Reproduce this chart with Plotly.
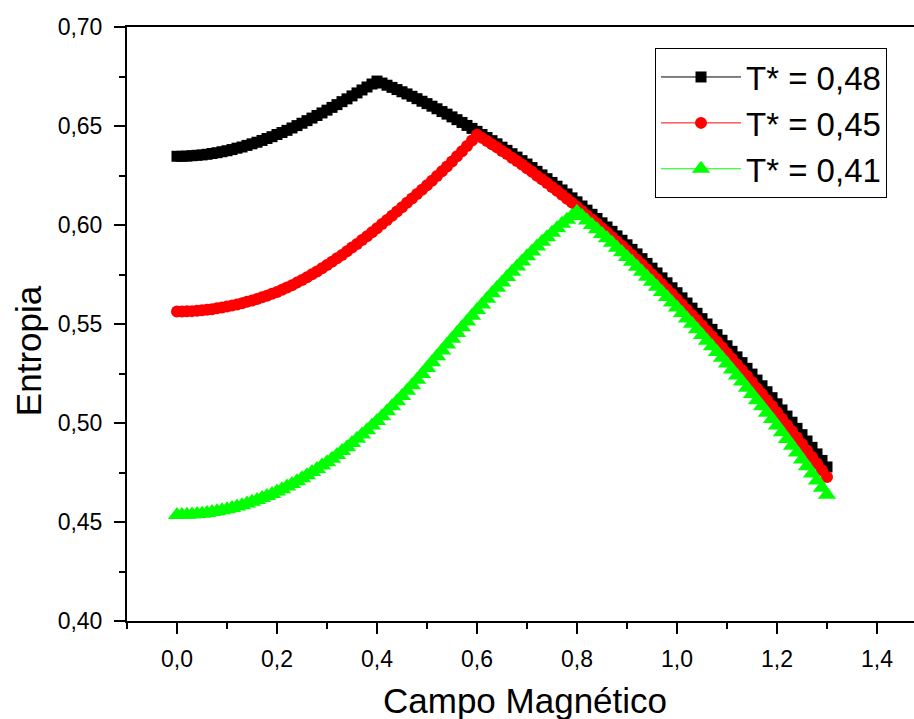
import plotly.graph_objects as go

# Magnetic field values (x) shared by all series
campo = [round(i * 0.01, 2) for i in range(131)]

entropia_048 = [
    0.6347, 0.6347, 0.6348, 0.6350, 0.6352, 0.6354, 0.6357, 0.6361, 0.6365, 0.6370,
    0.6375, 0.6381, 0.6388, 0.6394, 0.6402, 0.6410, 0.6418, 0.6427, 0.6437, 0.6446,
    0.6457, 0.6467, 0.6478, 0.6490, 0.6502, 0.6514, 0.6527, 0.6540, 0.6553, 0.6566,
    0.6580, 0.6594, 0.6608, 0.6623, 0.6637, 0.6652, 0.6667, 0.6682, 0.6697, 0.6712,
    0.6727,
    0.6717, 0.6706, 0.6695, 0.6684, 0.6673, 0.6662, 0.6650, 0.6638, 0.6625, 0.6613,
    0.6600, 0.6587, 0.6573, 0.6560, 0.6546, 0.6532, 0.6518, 0.6503, 0.6488, 0.6473,
    0.6457, 0.6442, 0.6426, 0.6410, 0.6393, 0.6377, 0.6360, 0.6343, 0.6325, 0.6308,
    0.6290, 0.6271, 0.6253, 0.6234, 0.6215, 0.6196, 0.6177, 0.6157, 0.6137, 0.6117,
    0.6096, 0.6075, 0.6054, 0.6033, 0.6011, 0.5990, 0.5968, 0.5945, 0.5923, 0.5900,
    0.5877, 0.5854, 0.5830, 0.5806, 0.5782, 0.5758, 0.5733, 0.5708, 0.5683, 0.5658,
    0.5632, 0.5606, 0.5580, 0.5554, 0.5527, 0.5500, 0.5473, 0.5446, 0.5418, 0.5390,
    0.5362, 0.5334, 0.5305, 0.5276, 0.5247, 0.5217, 0.5188, 0.5158, 0.5128, 0.5097,
    0.5066, 0.5035, 0.5004, 0.4973, 0.4941, 0.4909, 0.4877, 0.4844, 0.4811, 0.4778,
]

entropia_045 = [
    0.5563, 0.5563, 0.5564, 0.5565, 0.5567, 0.5569, 0.5572, 0.5575, 0.5579, 0.5583,
    0.5588, 0.5593, 0.5599, 0.5605, 0.5612, 0.5619, 0.5626, 0.5635, 0.5643, 0.5653,
    0.5662, 0.5673, 0.5684, 0.5696, 0.5709, 0.5722, 0.5736, 0.5751, 0.5765, 0.5782,
    0.5798, 0.5814, 0.5832, 0.5849, 0.5868, 0.5886, 0.5904, 0.5924, 0.5943, 0.5963,
    0.5984, 0.6005, 0.6025, 0.6047, 0.6068, 0.6090, 0.6112, 0.6134, 0.6156, 0.6178,
    0.6201, 0.6224, 0.6248, 0.6272, 0.6296, 0.6321, 0.6347, 0.6373, 0.6399, 0.6427,
    0.6456,
    0.6440, 0.6424, 0.6408, 0.6392, 0.6374, 0.6358, 0.6340, 0.6323, 0.6305, 0.6287,
    0.6269, 0.6249, 0.6231, 0.6212, 0.6192, 0.6173, 0.6153, 0.6133, 0.6113, 0.6092,
    0.6071, 0.6049, 0.6028, 0.6007, 0.5984, 0.5963, 0.5940, 0.5917, 0.5895, 0.5871,
    0.5848, 0.5824, 0.5800, 0.5776, 0.5751, 0.5727, 0.5701, 0.5676, 0.5651, 0.5625,
    0.5599, 0.5572, 0.5546, 0.5520, 0.5492, 0.5465, 0.5437, 0.5410, 0.5382, 0.5353,
    0.5324, 0.5296, 0.5266, 0.5237, 0.5207, 0.5176, 0.5147, 0.5116, 0.5086, 0.5054,
    0.5022, 0.4990, 0.4959, 0.4927, 0.4894, 0.4861, 0.4828, 0.4795, 0.4761, 0.4727,
]

entropia_041 = [
    0.4535, 0.4535, 0.4536, 0.4538, 0.4540, 0.4542, 0.4546, 0.4550, 0.4554, 0.4559,
    0.4565, 0.4571, 0.4578, 0.4585, 0.4593, 0.4602, 0.4611, 0.4621, 0.4631, 0.4642,
    0.4654, 0.4666, 0.4679, 0.4692, 0.4706, 0.4721, 0.4736, 0.4752, 0.4768, 0.4785,
    0.4802, 0.4820, 0.4839, 0.4858, 0.4878, 0.4899, 0.4920, 0.4942, 0.4964, 0.4987,
    0.5010, 0.5034, 0.5059, 0.5084, 0.5110, 0.5136, 0.5163, 0.5191, 0.5219, 0.5248,
    0.5278, 0.5307, 0.5337, 0.5366, 0.5396, 0.5426, 0.5455, 0.5484, 0.5513, 0.5542,
    0.5571, 0.5599, 0.5627, 0.5655, 0.5683, 0.5710, 0.5737, 0.5764, 0.5790, 0.5816,
    0.5842, 0.5866, 0.5891, 0.5915, 0.5938, 0.5961, 0.5984, 0.6006, 0.6027, 0.6047,
    0.6067,
    0.6045, 0.6023, 0.6000, 0.5978, 0.5955, 0.5933, 0.5910, 0.5885, 0.5862, 0.5838,
    0.5814, 0.5789, 0.5764, 0.5739, 0.5713, 0.5688, 0.5662, 0.5636, 0.5609, 0.5583,
    0.5556, 0.5528, 0.5501, 0.5473, 0.5445, 0.5416, 0.5388, 0.5359, 0.5330, 0.5300,
    0.5270, 0.5240, 0.5209, 0.5178, 0.5147, 0.5115, 0.5084, 0.5052, 0.5020, 0.4987,
    0.4953, 0.4919, 0.4885, 0.4851, 0.4816, 0.4781, 0.4745, 0.4709, 0.4673, 0.4637,
]

series_names = ["T* = 0,48", "T* = 0,45", "T* = 0,41"]
x_ticks = [0.0, 0.2, 0.4, 0.6, 0.8, 1.0, 1.2, 1.4]
y_ticks = [0.40, 0.45, 0.50, 0.55, 0.60, 0.65, 0.70]

FONT = "Liberation Sans, Arial, sans-serif"

fig = go.Figure()
styles = [
    dict(color="#000000", symbol="square", size=11),
    dict(color="#ff0000", symbol="circle", size=12),
    dict(color="#00ff00", symbol="triangle-up", size=16),
]
for name, yv, st in zip(series_names, [entropia_048, entropia_045, entropia_041], styles):
    fig.add_trace(go.Scatter(
        x=campo, y=yv, name=name, mode="lines+markers",
        line=dict(color=st["color"], width=1),
        marker=dict(color=st["color"], symbol=st["symbol"], size=st["size"],
                    line=dict(width=0)),
    ))

fig.update_layout(
    width=914, height=719,
    margin=dict(l=127, r=0, t=27, b=98),
    paper_bgcolor="white", plot_bgcolor="white",
    separators=", ",
    font=dict(family=FONT, color="black"),
    showlegend=True,
    legend=dict(
        x=0.6709, y=0.9646, xanchor="left", yanchor="top",
        bgcolor="white", bordercolor="black", borderwidth=1,
        font=dict(size=33, family=FONT, color="black"),
        itemwidth=80, tracegroupgap=0,
    ),
)
fig.update_xaxes(
    range=[-0.1, 1.474], showgrid=False, zeroline=False,
    showline=True, linecolor="black", linewidth=2, mirror=True,
    tickmode="array", tickvals=x_ticks, tickformat=".1f",
    ticks="outside", ticklen=11, tickwidth=2, tickcolor="black",
    tickfont=dict(size=23, family=FONT, color="black"),
    ticklabelstandoff=5,
    minor=dict(dtick=0.1, tick0=0, ticks="outside", ticklen=6, tickwidth=2, tickcolor="black"),
)
fig.update_yaxes(
    range=[0.40, 0.70], showgrid=False, zeroline=False,
    showline=True, linecolor="black", linewidth=2, mirror=False,
    tickmode="array", tickvals=y_ticks, tickformat=".2f",
    ticks="outside", ticklen=11, tickwidth=2, tickcolor="black",
    tickfont=dict(size=23, family=FONT, color="black"),
    ticklabelstandoff=7,
    minor=dict(dtick=0.025, tick0=0.4, ticks="outside", ticklen=6, tickwidth=2, tickcolor="black"),
)
fig.add_annotation(
    text="Campo Magnético", xref="paper", yref="paper",
    x=0.5057, y=-0.134, xanchor="center", yanchor="middle",
    showarrow=False, font=dict(size=35, family=FONT, color="black"),
)
fig.add_annotation(
    text="Entropia", xref="paper", yref="paper",
    x=-0.1258, y=0.456, xanchor="center", yanchor="middle", textangle=-90,
    showarrow=False, font=dict(size=35, family=FONT, color="black"),
)

fig.write_html("out.html")
